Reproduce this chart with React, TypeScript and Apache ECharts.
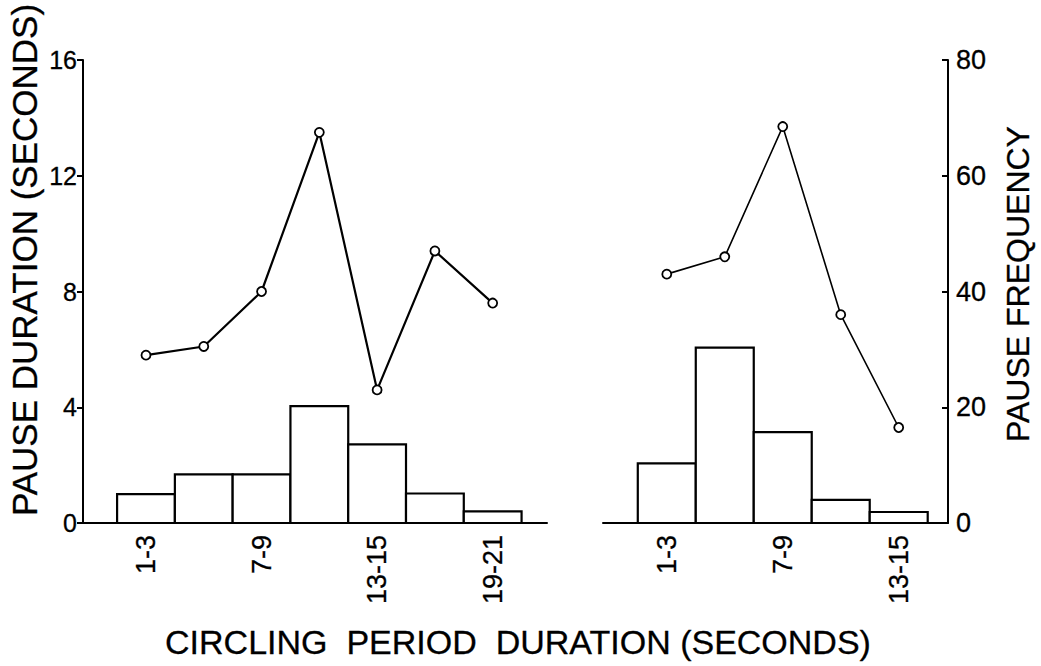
import React, { useEffect, useRef } from "react";
import * as echarts from "echarts";

// Circling-period bins (seconds) for the two panels
const leftCategories = ["1-3", "4-6", "7-9", "10-12", "13-15", "16-18", "19-21"];
const rightCategories = ["1-3", "4-6", "7-9", "10-12", "13-15"];

// Pause frequency (histogram, right-hand scale)
const leftFrequency = [5, 8.4, 8.4, 20.2, 13.6, 5.1, 2];
const rightFrequency = [10.3, 30.3, 15.7, 4, 1.9];

// Pause duration in seconds (line, left-hand scale)
const leftDuration = [5.8, 6.1, 8.0, 13.5, 4.6, 9.4, 7.6];
const rightDuration = [8.6, 9.2, 13.7, 7.2, 3.3];

// Bins that carry a tick label
const leftLabelled = [0, 2, 4, 6];
const rightLabelled = [0, 2, 4];

const FONT = "'Liberation Sans', Arial, sans-serif";
const INK = { textBorderColor: "#000", textBorderWidth: 0.3 };

const histogram = (xAxisIndex: number, yAxisIndex: number, values: number[]) => ({
  type: "custom",
  xAxisIndex,
  yAxisIndex,
  z: 1,
  data: values.map((v, i) => [i, v]),
  encode: { x: 0, y: 1 },
  renderItem: (_params: any, api: any) => {
    const i = api.value(0);
    const v = api.value(1);
    const p0 = api.coord([i - 0.5, 0]);
    const p1 = api.coord([i + 0.5, v]);
    return {
      type: "rect",
      shape: { x: p0[0], y: p1[1], width: p1[0] - p0[0], height: p0[1] - p1[1] },
      style: { fill: "#fff", stroke: "#000", lineWidth: 2.2 },
    };
  },
});

const durationLine = (xAxisIndex: number, yAxisIndex: number, values: number[], width: number) => ({
  type: "line",
  xAxisIndex,
  yAxisIndex,
  z: 3,
  data: values.map((v, i) => [i, v]),
  symbol: "circle",
  symbolSize: 9,
  showAllSymbol: true,
  itemStyle: { color: "#fff", borderColor: "#000", borderWidth: 1.8 },
  lineStyle: { color: "#000", width },
});

const xAxisFor = (gridIndex: number, min: number, max: number, cats: string[], labelled: number[]) => ({
  gridIndex,
  type: "value",
  min,
  max,
  axisLine: { show: true, onZero: false, lineStyle: { color: "#000", width: 2 } },
  axisTick: { show: false },
  splitLine: { show: false },
  axisLabel: {
    customValues: labelled,
    formatter: (v: number) => cats[Math.round(v)] ?? "",
    rotate: 90,
    margin: 12,
    fontSize: 27,
    color: "#000",
    fontFamily: FONT,
    ...INK,
  },
});

const titleStyle = (text: string, fontSize: number) => ({
  text,
  fontSize,
  fontFamily: FONT,
  fill: "#000",
  textAlign: "center",
  textVerticalAlign: "middle",
  stroke: "#000",
  lineWidth: 0.3,
});

export default function App() {
  const ref = useRef<HTMLDivElement>(null);

  useEffect(() => {
    if (!ref.current) return;
    const chart = echarts.init(ref.current, undefined, { renderer: "svg" });
    chart.setOption({
      animation: false,
      backgroundColor: "#fff",
      textStyle: { fontFamily: FONT, color: "#000" },
      grid: [
        { left: 83, top: 60, width: 464, height: 463 },
        { left: 603, top: 60, width: 345, height: 463 },
      ],
      xAxis: [
        xAxisFor(0, -1.09, 6.94, leftCategories, leftLabelled),
        xAxisFor(1, -1.1, 4.85, rightCategories, rightLabelled),
      ],
      yAxis: [
        {
          gridIndex: 0,
          position: "left",
          min: 0,
          max: 16,
          interval: 4,
          axisLine: { show: true, onZero: false, lineStyle: { color: "#000", width: 2 } },
          axisTick: { show: true, length: 6, lineStyle: { color: "#000", width: 2 } },
          splitLine: { show: false },
          axisLabel: { fontSize: 25, margin: 6, color: "#000", fontFamily: FONT, ...INK },
        },
        { gridIndex: 0, min: 0, max: 80, show: false },
        {
          gridIndex: 1,
          position: "right",
          min: 0,
          max: 80,
          interval: 20,
          axisLine: { show: true, onZero: false, lineStyle: { color: "#000", width: 2 } },
          axisTick: { show: true, inside: true, length: 6, lineStyle: { color: "#000", width: 2 } },
          splitLine: { show: false },
          axisLabel: { fontSize: 27, margin: 8, color: "#000", fontFamily: FONT, ...INK },
        },
        { gridIndex: 1, min: 0, max: 16, show: false },
      ],
      series: [
        histogram(0, 1, leftFrequency),
        histogram(1, 2, rightFrequency),
        durationLine(0, 0, leftDuration, 2.2),
        durationLine(1, 3, rightDuration, 1.6),
      ],
      graphic: [
        {
          type: "text",
          x: 24,
          y: 260,
          rotation: Math.PI / 2,
          style: titleStyle("PAUSE DURATION (SECONDS)", 35),
        },
        {
          type: "text",
          x: 1018,
          y: 284,
          rotation: Math.PI / 2,
          style: titleStyle("PAUSE FREQUENCY", 32),
        },
        {
          type: "text",
          x: 518,
          y: 642,
          style: titleStyle("CIRCLING  PERIOD  DURATION (SECONDS)", 34),
        },
      ],
    });
    return () => chart.dispose();
  }, []);

  return (
    <div
      ref={ref}
      style={{ position: "fixed", left: 0, top: 0, width: 1041, height: 666, background: "#fff" }}
    />
  );
}
